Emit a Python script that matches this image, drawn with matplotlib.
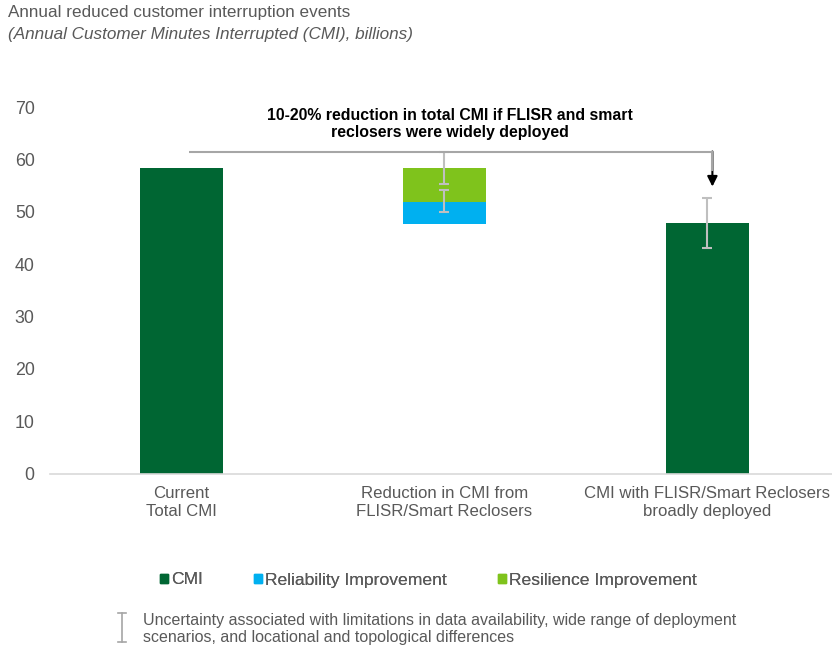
import matplotlib
matplotlib.use("Agg")
import matplotlib.pyplot as plt
from matplotlib.lines import Line2D
from matplotlib.patches import Patch

plt.rcParams['font.family'] = ['Liberation Sans', 'DejaVu Sans']

categories = ["Current\nTotal CMI", "Reduction in CMI from\nFLISR/Smart Reclosers",
              "CMI with FLISR/Smart Reclosers\nbroadly deployed"]
cmi_values = [58.4, 0, 47.8]
invisible_base = [0, 47.7, 0]
reliability = [0, 4.2, 0]
resilience = [0, 6.5, 0]
# error bars: (x index, center, low, high)
err_x = [1, 1, 2]
err_center = [58.4, 51.9, 47.8]
err_low = [55.2, 49.9, 43.0]
err_high = [61.4, 54.1, 52.6]
yticks = [0, 10, 20, 30, 40, 50, 60, 70]

c_cmi = "#006633"
c_rel = "#00B0F0"
c_res = "#7FC31C"
c_err = "#BFBFBF"
c_text = "#595959"

fig = plt.figure(figsize=(8.32, 6.47), dpi=100)
ax = fig.add_axes([50/832, (647-473.5)/647, (832-50)/832, 366.5/647])

x = list(range(len(categories)))
w = 0.315
ax.bar(x, cmi_values, width=w, color=c_cmi, zorder=2)
ax.bar(x, reliability, width=w, bottom=invisible_base, color=c_rel, zorder=2)
bottom2 = [b + r for b, r in zip(invisible_base, reliability)]
ax.bar(x, resilience, width=w, bottom=bottom2, color=c_res, zorder=2)

lower = [c - l for c, l in zip(err_center, err_low)]
upper = [h - c for c, h in zip(err_center, err_high)]
ax.errorbar(err_x, err_center, yerr=[lower, upper], fmt='none', ecolor=c_err,
            elinewidth=1.5, capsize=3.5, capthick=1.5, zorder=3)

# bracket annotation
ax.plot([0.03, 2.02], [61.5, 61.5], color="#A6A6A6", lw=1.5, zorder=4, solid_capstyle='butt')
ax.annotate("", xy=(2.02, 54.8), xytext=(2.02, 61.5),
            arrowprops=dict(arrowstyle="-|>,head_length=0.6,head_width=0.3",
                            color="black", lw=1.5, shrinkA=0, shrinkB=0), zorder=4)
ax.plot([2.02, 2.02], [61.5, 58], color="#A6A6A6", lw=1.5, zorder=5)
ax.text(1.02, 66.7, "10-20% reduction in total CMI if FLISR and smart\nreclosers were widely deployed",
        ha="center", va="center", fontsize=11.4, fontweight="bold", color="black",
        linespacing=1.15)

ax.set_xlim(-0.5, 2.475)
ax.set_ylim(0, 70)
ax.set_yticks(yticks)
ax.set_xticks(x)
ax.set_xticklabels(categories, fontsize=12.1, color=c_text, linespacing=1.25)
ax.tick_params(axis='y', length=0, pad=11, labelsize=12.8, labelcolor=c_text)
ax.tick_params(axis='x', length=0, pad=9)
for s in ["left", "right", "top"]:
    ax.spines[s].set_visible(False)
ax.spines["bottom"].set_color("#D9D9D9")
ax.spines["bottom"].set_linewidth(1.2)

# title
fig.text(8/832, 1 - 13/647, "Annual reduced customer interruption events", fontsize=12.3,
         color=c_text, va="center", ha="left")
fig.text(8/832, 1 - 35/647, "(Annual Customer Minutes Interrupted (CMI), billions)", fontsize=12.3,
         color=c_text, va="center", ha="left", style="italic")

# legend
handles = [Patch(color=c_cmi, label="CMI"), Patch(color=c_rel, label="Reliability Improvement"),
           Patch(color=c_res, label="Resilience Improvement")]
legend_x = [160, 254, 498]
for hx, h in zip(legend_x, handles):
    leg = fig.legend(handles=[h], loc="center left", bbox_to_anchor=(hx/832, 1 - 580/647),
                     frameon=False, fontsize=12.6, handlelength=0.45, handleheight=0.45,
                     handletextpad=0.2, borderaxespad=0, borderpad=0, labelcolor=c_text)
    fig.add_artist(leg)

# footnote with error symbol
fig.add_artist(Line2D([122/832, 122/832], [1 - 613/647, 1 - 642/647], color="#A6A6A6", lw=1.2))
fig.add_artist(Line2D([118/832, 126/832], [1 - 613/647, 1 - 613/647], color="#A6A6A6", lw=1.2))
fig.add_artist(Line2D([118/832, 126/832], [1 - 642/647, 1 - 642/647], color="#A6A6A6", lw=1.2))
fig.text(143/832, 1 - 629/647,
         "Uncertainty associated with limitations in data availability, wide range of deployment\n"
         "scenarios, and locational and topological differences",
         fontsize=11.5, color=c_text, va="center", ha="left", linespacing=1.15)

fig.savefig("out.png", dpi=100)
